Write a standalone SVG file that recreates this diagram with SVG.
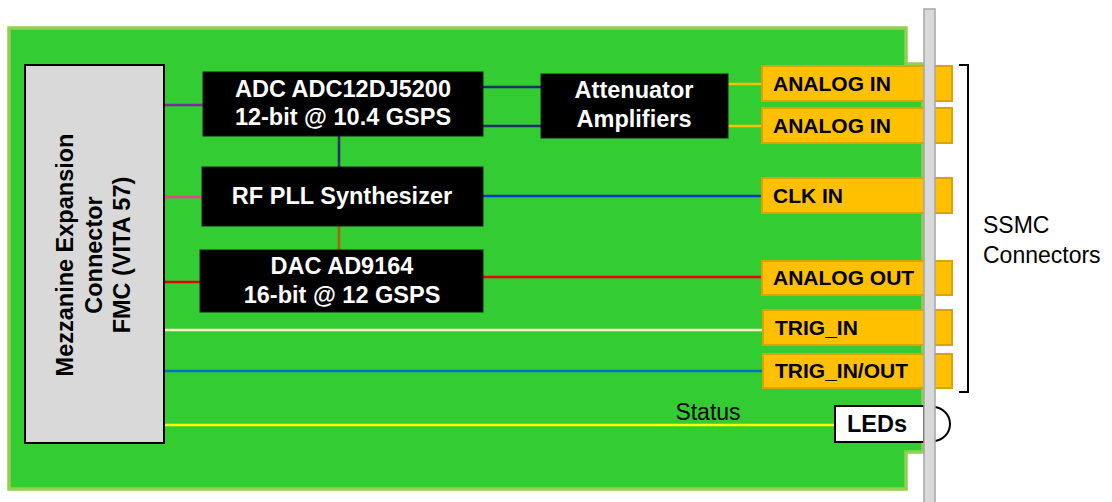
<svg xmlns="http://www.w3.org/2000/svg" width="1112" height="502" viewBox="0 0 1112 502">
<style>
.blk{fill:#000;stroke:#1a1a1a;stroke-width:1}
.wt{font-family:"Liberation Sans",Arial,sans-serif;font-weight:bold;font-size:23.5px;fill:#fff;text-anchor:middle}
.ct{font-family:"Liberation Sans",Arial,sans-serif;font-weight:bold;font-size:21px;fill:#000}
.sma{fill:#FFC000;stroke:#D9A300;stroke-width:2}
.ln{fill:none;stroke-width:2.5}
.nt{font-family:"Liberation Sans",Arial,sans-serif;font-size:23px;fill:#000}
</style>
<rect width="1112" height="502" fill="#fff"/>
<g id="board">
<polygon points="9,28 906,28 906,64 923,64 923,452 906,452 906,489 9,489" fill="#33CC33" stroke="#92D050" stroke-width="3.5"/>
</g>
<g id="connectors">
<line class="ln" x1="164" y1="105" x2="203" y2="105" stroke="#7030A0"/>
<line class="ln" x1="164" y1="197" x2="202" y2="197" stroke="#F0408A"/>
<line class="ln" x1="164" y1="282" x2="200" y2="282" stroke="#E00000"/>
<line class="ln" x1="339" y1="136" x2="339" y2="167" stroke="#1F2F6A"/>
<line class="ln" x1="339" y1="226" x2="339" y2="250" stroke="#B0600A"/>
<line class="ln" x1="483" y1="87" x2="541" y2="87" stroke="#1F2F6A"/>
<line class="ln" x1="483" y1="126" x2="541" y2="126" stroke="#1F2F6A"/>
<line class="ln" x1="728" y1="84" x2="762" y2="84" stroke="#FFC000"/>
<line class="ln" x1="728" y1="126" x2="762" y2="126" stroke="#FFC000"/>
<line class="ln" x1="483" y1="196" x2="762" y2="196" stroke="#0A3ACC"/>
<line class="ln" x1="483" y1="277" x2="762" y2="277" stroke="#F00000"/>
<line class="ln" x1="164" y1="330" x2="763" y2="330" stroke="#FFF2CC"/>
<line class="ln" x1="164" y1="371" x2="763" y2="371" stroke="#0070C0"/>
<line class="ln" x1="164" y1="425" x2="835" y2="425" stroke="#FFFF00"/>
<text class="nt" x="708" y="420" text-anchor="middle">Status</text>
</g>
<g id="mezzanine">
<rect x="25" y="65" width="139" height="378" fill="#D9D9D9" stroke="#000" stroke-width="2"/>
<text class="wt" style="fill:#000" transform="translate(73,255) rotate(-90)">Mezzanine Expansion</text>
<text class="wt" style="fill:#000" transform="translate(102,255) rotate(-90)">Connector</text>
<text class="wt" style="fill:#000" transform="translate(130,255) rotate(-90)">FMC (VITA 57)</text>
</g>
<g id="adc">
<rect class="blk" x="203" y="72" width="280" height="64"/>
<text class="wt" x="343" y="97">ADC ADC12DJ5200</text>
<text class="wt" x="343" y="125">12-bit @ 10.4 GSPS</text>
</g>
<g id="pll">
<rect class="blk" x="202" y="167" width="281" height="59"/>
<text class="wt" x="342" y="204">RF PLL Synthesizer</text>
</g>
<g id="dac">
<rect class="blk" x="200" y="250" width="283" height="62"/>
<text class="wt" x="342" y="274">DAC AD9164</text>
<text class="wt" x="342" y="303">16-bit @ 12 GSPS</text>
</g>
<g id="attenuator">
<rect class="blk" x="541" y="74" width="187" height="64"/>
<text class="wt" x="634" y="98">Attenuator</text>
<text class="wt" x="634" y="127">Amplifiers</text>
</g>
<g id="analog-in-1">
<rect class="sma" x="762" y="66" width="190" height="35"/>
<text class="ct" x="773" y="91">ANALOG IN</text>
</g>
<g id="analog-in-2">
<rect class="sma" x="762" y="108" width="190" height="35"/>
<text class="ct" x="773" y="133">ANALOG IN</text>
</g>
<g id="clk-in">
<rect class="sma" x="762" y="178" width="190" height="35"/>
<text class="ct" x="773" y="203">CLK IN</text>
</g>
<g id="analog-out">
<rect class="sma" x="762" y="261" width="190" height="34"/>
<text class="ct" x="773" y="285">ANALOG OUT</text>
</g>
<g id="trig-in">
<rect class="sma" x="763" y="310" width="189" height="35"/>
<text class="ct" x="775" y="335">TRIG_IN</text>
</g>
<g id="trig-in-out">
<rect class="sma" x="763" y="354" width="189" height="34"/>
<text class="ct" x="775" y="378">TRIG_IN/OUT</text>
</g>
<g id="leds">
<path d="M933,407 A17,17 0 0 1 933,441" fill="#fff" stroke="#000" stroke-width="2"/>
<rect x="835" y="406" width="89" height="36" fill="#fff" stroke="#000" stroke-width="2"/>
<text class="ct" style="font-size:23.5px" x="877" y="432" text-anchor="middle">LEDs</text>
</g>
<g id="panel">
<rect x="924" y="9" width="11" height="495" fill="#D9D9D9" stroke="#A6A6A6" stroke-width="1.5"/>
</g>
<g id="ssmc-bracket">
<polyline points="959,65 968,65 968,392 959,392" fill="none" stroke="#000" stroke-width="2"/>
<text class="nt" x="983" y="233">SSMC</text>
<text class="nt" x="983" y="263">Connectors</text>
</g>
</svg>
